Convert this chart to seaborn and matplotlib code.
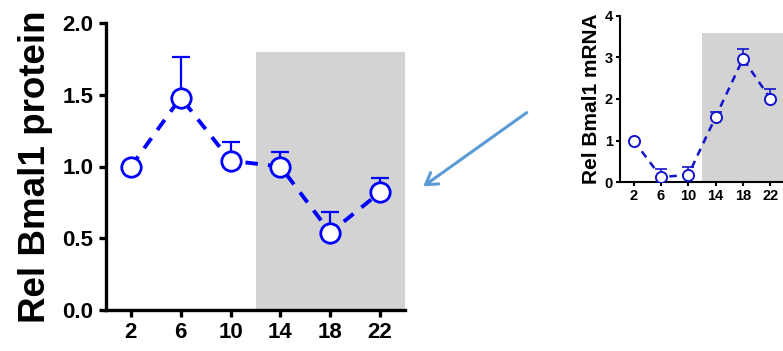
import numpy as np
import matplotlib
matplotlib.use("Agg")
import matplotlib.pyplot as plt
import seaborn as sns

# data
hours = [2, 6, 10, 14, 18, 22]
protein = [1.00, 1.48, 1.04, 1.00, 0.54, 0.82]
protein_err = [0.00, 0.28, 0.13, 0.10, 0.14, 0.10]
mrna = [1.00, 0.12, 0.17, 1.57, 2.97, 2.01]
mrna_err = [0.00, 0.19, 0.19, 0.11, 0.23, 0.22]
x_ticks = [2, 6, 10, 14, 18, 22]

sns.set_style("ticks", {'axes.edgecolor': 'black', 'text.color': 'black',
                        'xtick.color': 'black', 'ytick.color': 'black',
                        'axes.labelcolor': 'black'})
plt.rcParams['font.family'] = ['Liberation Sans', 'DejaVu Sans']
plt.rcParams['font.weight'] = 'bold'

blue = '#0000ff'
blue_inset = '#1414cc'
grey = '#d3d3d3'

fig = plt.figure(figsize=(7.83, 3.51), dpi=100)
W, H = 783, 351


def px_axes(x0, y_top, x1, y_bot):
    return fig.add_axes([x0 / W, 1 - y_bot / H, (x1 - x0) / W, (y_bot - y_top) / H])


def draw_panel(ax, y, err, color, lw, ms, mew, cap, elw, dashes):
    ax.errorbar(y=y, x=hours, yerr=[np.zeros(len(err)), err], fmt='none',
                ecolor=color, elinewidth=elw, capsize=cap, capthick=elw, zorder=2)
    sns.lineplot(x=hours, y=y, ax=ax, color=color, lw=lw, marker='o', markersize=ms,
                 markerfacecolor='white', markeredgecolor=color, markeredgewidth=mew,
                 zorder=3)
    ax.lines[-1].set_linestyle((0, dashes))


# main panel
ax = px_axes(106, 23, 405, 310)
ax.axvspan(12, 24, ymin=0, ymax=1.8 / 2.0, color=grey, lw=0, zorder=0)
draw_panel(ax, protein, protein_err, blue, 2.8, 14, 2.0, 6.5, 1.6, (3.2, 2.6))
ax.set_xlim(0, 24)
ax.set_ylim(0, 2.0)
ax.set_xticks(x_ticks)
ax.set_yticks([0.0, 0.5, 1.0, 1.5, 2.0])
ax.set_yticklabels([f"{v:.1f}" for v in [0.0, 0.5, 1.0, 1.5, 2.0]])
ax.set_ylabel('Rel Bmal1 protein', fontsize=26.5, fontweight='bold', labelpad=7)
ax.tick_params(axis='both', labelsize=16, width=2.4, length=5, pad=4, colors='black')
for lab in ax.get_xticklabels() + ax.get_yticklabels():
    lab.set_fontweight('bold')
sns.despine(ax=ax)
for s in ['left', 'bottom']:
    ax.spines[s].set_linewidth(2.4)
    ax.spines[s].set_color('black')
ax.set_facecolor('none')

# inset panel
ax2 = px_axes(620, 16, 784, 182)
ax2.axvspan(12, 24, ymin=0, ymax=3.6 / 4.0, color=grey, lw=0, zorder=0)
draw_panel(ax2, mrna, mrna_err, blue_inset, 1.8, 8, 1.4, 4, 1.2, (3.0, 2.4))
ax2.set_xlim(0, 24)
ax2.set_ylim(0, 4)
ax2.set_xticks(x_ticks)
ax2.set_yticks([0, 1, 2, 3, 4])
ax2.set_ylabel('Rel Bmal1 mRNA', fontsize=15, fontweight='bold', labelpad=3)
ax2.tick_params(axis='both', labelsize=10.5, width=1.5, length=3, pad=2, colors='black')
for lab in ax2.get_xticklabels() + ax2.get_yticklabels():
    lab.set_fontweight('bold')
sns.despine(ax=ax2)
for s in ['left', 'bottom']:
    ax2.spines[s].set_linewidth(1.5)
    ax2.spines[s].set_color('black')
ax2.set_facecolor('none')

# arrow from the inset to the main panel
fig.patches.append(matplotlib.patches.FancyArrowPatch(
    (529 / W, 1 - 111 / H), (421 / W, 1 - 188 / H), transform=fig.transFigure,
    arrowstyle='->,head_length=8,head_width=5', color='#5b9bd5', lw=2.2,
    mutation_scale=1))

fig.savefig('out.png', dpi=100)
